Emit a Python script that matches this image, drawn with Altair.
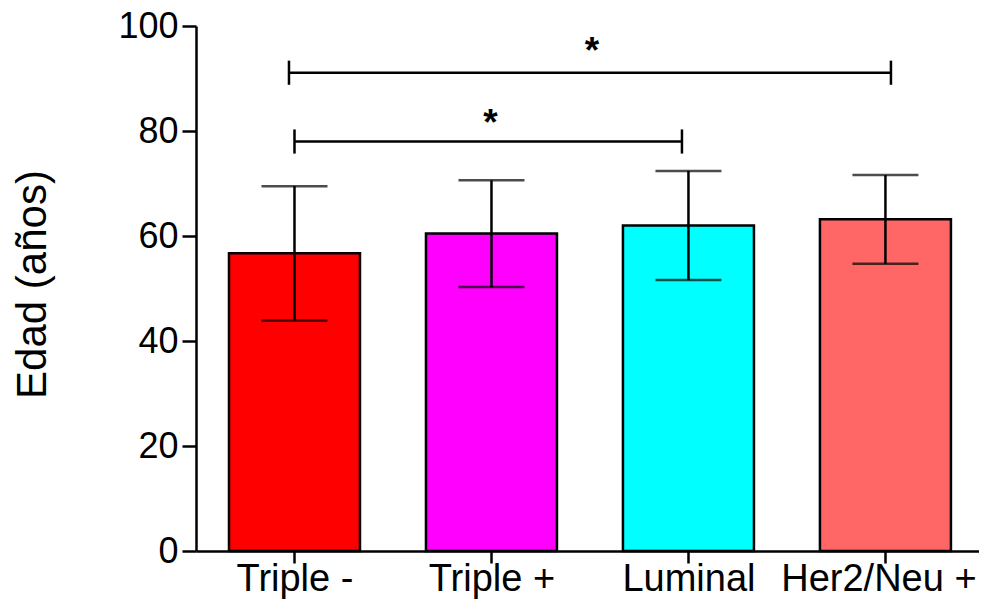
import altair as alt
import pandas as pd

categories = ["Triple -", "Triple +", "Luminal", "Her2/Neu +"]
positions = [0, 1, 2, 3]
means = [56.7, 60.5, 62.0, 63.2]
err_low = [43.9, 50.3, 51.6, 54.7]
err_high = [69.5, 70.6, 72.4, 71.6]
colors = ["#FF0000", "#FF00FF", "#00FFFF", "#FF6666"]

# significance brackets (x in category-index units, y in data units)
br_x1 = [-0.028, 0.0]
br_x2 = [3.028, 1.967]
br_y = [91.1, 78.0]
br_tick_lo = [88.8, 75.7]
br_tick_hi = [93.4, 80.3]
star_x = [1.51, 0.995]
star_y = [93.0, 79.3]
star_text = ["*", "*"]

FONT = "Liberation Sans"
HALF = 0.3325  # half bar width in category units

df = pd.DataFrame({
    "pos": positions, "cat": categories, "mean": means,
    "lo": err_low, "hi": err_high, "color": colors
})
brackets = pd.DataFrame({"x1": br_x1, "x2": br_x2, "y": br_y})
ends = pd.DataFrame({
    "x": br_x1 + br_x2,
    "tlo": br_tick_lo + br_tick_lo,
    "thi": br_tick_hi + br_tick_hi,
})
stars = pd.DataFrame({"x": star_x, "y": star_y, "t": star_text})

label_expr = "[" + ",".join("'" + c + "'" for c in categories) + "][datum.value]"

xscale = alt.Scale(domain=[-0.5, 3.475], nice=False, zero=False)
xaxis = alt.Axis(values=positions, labelExpr=label_expr, grid=False,
                 labelAngle=0, labelFontSize=38, labelFont=FONT,
                 labelColor="black", tickSize=12, tickWidth=2.5,
                 tickColor="black", domainColor="black", domainWidth=2.5,
                 labelBaseline="alphabetic", labelPadding=27,
                 labelLimit=0, labelFlush=False,
                 labelOverlap=False, title=None,
                 labelOffset={"condition": {"test": "datum.value === 3", "value": -7},
                              "value": 0})
yscale = alt.Scale(domain=[0, 100], nice=False)
yaxis = alt.Axis(values=[0, 20, 40, 60, 80, 100], grid=False,
                 labelFontSize=36, labelFont=FONT, labelColor="black",
                 tickSize=14, tickWidth=2.5, tickColor="black",
                 domainColor="black", domainWidth=2.5, labelPadding=4,
                 title="Edad (años)", titleFontSize=42, titleFont=FONT,
                 titleFontWeight="normal", titleColor="black",
                 titleAngle=-90, titleX=-164, titleY=258,
                 titleAlign="center", titleBaseline="middle")

bars = alt.Chart(df).transform_calculate(
    x1=f"datum.pos - {HALF}", x2=f"datum.pos + {HALF}"
).mark_bar(stroke="black", strokeWidth=2.5).encode(
    x=alt.X("x1:Q", scale=xscale, axis=xaxis),
    x2="x2:Q",
    y=alt.Y("mean:Q", scale=yscale, axis=yaxis),
    y2=alt.datum(0),
    color=alt.Color("color:N", scale=None),
)
err_rule = alt.Chart(df).mark_rule(color="black", strokeWidth=2.5).encode(
    x="pos:Q", y="lo:Q", y2="hi:Q")
cap_hi = alt.Chart(df).mark_tick(color="black", thickness=2.5, size=66,
                                 orient="horizontal").encode(x="pos:Q", y="hi:Q")
cap_lo = alt.Chart(df).mark_tick(color="black", thickness=2.5, size=66,
                                 orient="horizontal").encode(x="pos:Q", y="lo:Q")

br_line = alt.Chart(brackets).mark_rule(color="black", strokeWidth=2.5).encode(
    x="x1:Q", x2="x2:Q", y="y:Q")
br_ends = alt.Chart(ends).mark_rule(color="black", strokeWidth=2.5).encode(
    x="x:Q", y="tlo:Q", y2="thi:Q")
br_stars = alt.Chart(stars).mark_text(fontSize=37, font=FONT, fontWeight="bold",
                                      color="black", baseline="alphabetic",
                                      align="center").encode(
    x="x:Q", y="y:Q", text="t:N")

chart = alt.layer(bars, err_rule, cap_hi, cap_lo, br_line, br_ends, br_stars).properties(
    width=783, height=525,
    background="white",
    autosize=alt.AutoSizeParams(type="none"),
    padding={"left": 188, "top": 18, "right": 0, "bottom": 49},
).configure_view(stroke=None).configure_axis(grid=False)

chart.save("out.html", embed_options={"renderer": "svg", "actions": False})
